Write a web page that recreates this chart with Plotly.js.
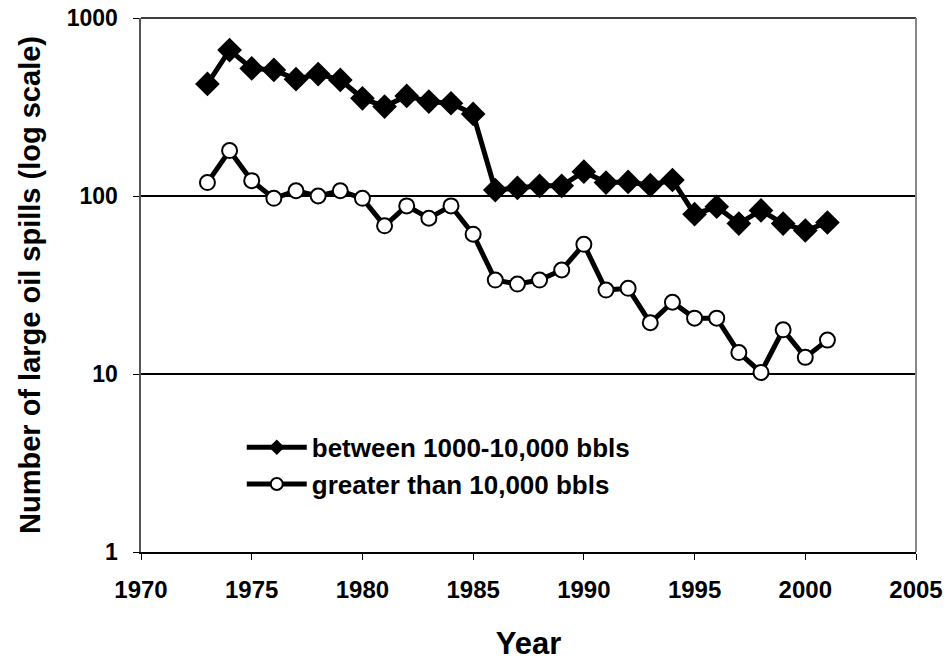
<!DOCTYPE html>
<html>
<head>
<meta charset="utf-8">
<script src="https://cdn.plot.ly/plotly-3.0.1.min.js"></script>
<style>
html,body{margin:0;padding:0;background:#fff;}
#chart{width:947px;height:664px;}
</style>
</head>
<body>
<div id="chart"></div>
<script>
const years = [1973,1974,1975,1976,1977,1978,1979,1980,1981,1982,1983,1984,1985,1986,1987,1988,1989,1990,1991,1992,1993,1994,1995,1996,1997,1998,1999,2000,2001];
const spillsMedium = [426,660,521,511,453,484,449,354,318,365,339,332,289,108,111,114,114,137,119,120,115,123,79,87,70,83,70,64,71];
const spillsLarge = [119,180,122,97,107,100,107,97,68,88,75,88,61,33.7,32,33.7,38.4,53.5,29.6,30.3,19.4,25.3,20.6,20.6,13.2,10.2,17.7,12.4,15.5];
const seriesNames = ['between 1000-10,000 bbls','greater than 10,000 bbls'];
const xTicks = [1970,1975,1980,1985,1990,1995,2000,2005];
const yTicks = [1,10,100,1000];

const FONT = 'Liberation Sans, Arial, sans-serif';

const traces = [
  {
    x: years, y: spillsMedium, name: seriesNames[0], type: 'scatter', mode: 'lines+markers',
    line: {color: '#000', width: 5},
    marker: {symbol: 'diamond', size: 19, color: '#000', line: {color: '#000', width: 0}},
    legendgroup: 'a'
  },
  {
    x: years, y: spillsLarge, name: seriesNames[1], type: 'scatter', mode: 'lines+markers',
    line: {color: '#000', width: 5},
    marker: {symbol: 'circle', size: 15, color: '#fff', line: {color: '#000', width: 2}},
    legendgroup: 'b'
  }
];

const layout = {
  width: 947, height: 664,
  margin: {l: 141, r: 31, t: 18, b: 112},
  paper_bgcolor: '#fff', plot_bgcolor: '#fff',
  font: {family: FONT, color: '#000'},
  showlegend: true,
  legend: {
    x: 0.13, y: 0.24, xanchor: 'left', yanchor: 'top',
    bgcolor: 'rgba(0,0,0,0)', borderwidth: 0,
    font: {family: FONT, size: 26, weight: 'bold', color: '#000'},
    itemsizing: 'constant', itemwidth: 60, tracegroupgap: 0, traceorder: 'grouped'
  },
  xaxis: {
    range: [1970, 2005], tickvals: xTicks, ticktext: xTicks.map(String),
    showgrid: false, zeroline: false,
    showline: true, linecolor: '#000', linewidth: 1.5,
    ticks: 'outside', ticklen: 6, tickcolor: '#000', tickwidth: 1,
    ticklabelstandoff: 10,
    tickfont: {family: FONT, size: 24, weight: 'bold', color: '#000'},
    title: {text: 'Year', font: {family: FONT, size: 31, weight: 'bold', color: '#000'}, standoff: 30}
  },
  yaxis: {
    type: 'log', range: [0, 3], tickvals: yTicks, ticktext: yTicks.map(String),
    showgrid: true, gridcolor: '#000', gridwidth: 1.2, zeroline: false,
    showline: true, linecolor: '#555', linewidth: 2.5,
    ticks: 'outside', ticklen: 6, tickcolor: '#000', tickwidth: 1,
    ticklabelstandoff: 10,
    tickfont: {family: FONT, size: 23, weight: 'bold', color: '#000'},
    title: {text: 'Number of large oil spills (log scale)', font: {family: FONT, size: 29, weight: 'bold', color: '#000'}, standoff: 18}
  },
  shapes: [
    {type: 'line', xref: 'paper', yref: 'paper', x0: 0, x1: 1, y0: 1, y1: 1, line: {color: '#000', width: 1.5}},
    {type: 'line', xref: 'paper', yref: 'paper', x0: 1, x1: 1, y0: 0, y1: 1, line: {color: '#888', width: 2}}
  ]
};

Plotly.newPlot('chart', traces, layout, {displayModeBar: false, staticPlot: true});
</script>
</body>
</html>
